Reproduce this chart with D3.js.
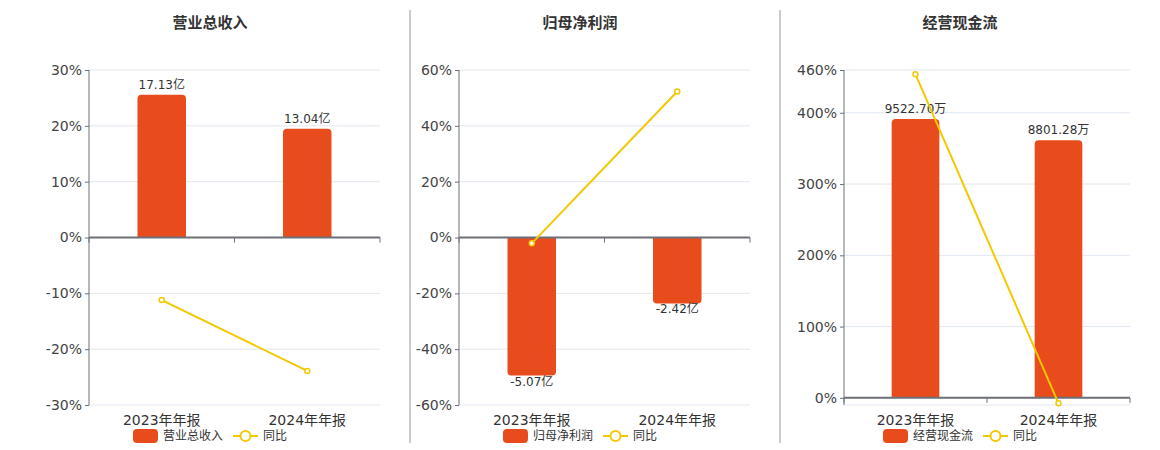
<!DOCTYPE html>
<html>
<head>
<meta charset="utf-8">
<script src="https://cdn.jsdelivr.net/npm/d3@7"></script>
<style>
  body { margin: 0; background: #fff; }
  svg { display: block; font-family: "DejaVu Sans", "Noto Sans CJK SC", sans-serif; }
</style>
</head>
<body>
<div class="main"></div>
<script>

// data
const categories = ["2023年年报", "2024年年报"];
const titles = ["营业总收入", "归母净利润", "经营现金流"];

const revenue = [17.13, 13.04];
const revenueYoY = [-11.2, -23.9];
const profit = [-5.07, -2.42];
const profitYoY = [-2.1, 52.3];
const cashflow = [9522.70, 8801.28];
const cashflowYoY = [454, -7.58];

const revenueTicks = [-30, -20, -10, 0, 10, 20, 30];
const profitTicks = [-60, -40, -20, 0, 20, 40, 60];
const cashflowTicks = [0, 100, 200, 300, 400, 460];

const units = ["亿", "亿", "万"];

////////////
// CANVAS //
////////////

const w = 1160;
const h = 450;
const plotTop = 70, plotBottom = 405;
const barColor = "#e84b1c";
const lineColor = "#f3c800";
const axisColor = "#6e7079";
const gridColor = "#e0e6f1";
const textColor = "#333";

const svg = d3.select(".main")
    .append("svg")
    .attr("width", w)
    .attr("height", h);

// separators
svg.selectAll("line.sep")
    .data([410, 780])
    .enter()
    .append("line")
    .attr("x1", d => d).attr("x2", d => d)
    .attr("y1", 10).attr("y2", 443)
    .attr("stroke", "#aaa")
    .attr("stroke-width", 1.2);

const panels = [
    { title: titles[0], bars: revenue, yoy: revenueYoY, ticks: revenueTicks, yDomain: [-30, 30], barMax: 20.1, left: 89, right: 380, cx: 210, unit: units[0] },
    { title: titles[1], bars: profit, yoy: profitYoY, ticks: profitTicks, yDomain: [-60, 60], barMax: 6.15, left: 459, right: 750, cx: 580, unit: units[1] },
    { title: titles[2], bars: cashflow, yoy: cashflowYoY, ticks: cashflowTicks, yDomain: [-10, 460], barMax: 11200, left: 844, right: 1130, cx: 960, unit: units[2] }
];

// bar path with rounded far end
const barPath = (x, y0, y1, bw, r) => {
    const up = y1 < y0;
    const hgt = Math.abs(y1 - y0);
    r = Math.min(r, hgt / 2, bw / 2);
    const s = up ? 1 : -1;
    return `M${x},${y0} L${x},${y1 + s * r} Q${x},${y1} ${x + r},${y1} L${x + bw - r},${y1} Q${x + bw},${y1} ${x + bw},${y1 + s * r} L${x + bw},${y0} Z`;
};

panels.forEach(p => {
    const g = svg.append("g");

    ////////////
    // SCALES //
    ////////////

    const xScale = d3.scaleBand()
        .domain(categories)
        .range([p.left, p.right]);

    const yScale = d3.scaleLinear()
        .domain(p.yDomain)
        .range([plotBottom, plotTop]);

    const barMin = p.barMax * p.yDomain[0] / p.yDomain[1];
    const yBar = d3.scaleLinear()
        .domain([barMin, p.barMax])
        .range([plotBottom, plotTop]);

    // title
    g.append("text")
        .text(p.title)
        .attr("x", p.cx)
        .attr("y", 28)
        .attr("text-anchor", "middle")
        .style("font-size", "15px")
        .style("font-weight", "bold")
        .style("fill", textColor);

    // grid
    const gridVals = Array.from(new Set([p.yDomain[0], ...p.ticks]));
    g.selectAll("line.grid")
        .data(gridVals)
        .enter()
        .append("line")
        .attr("x1", p.left).attr("x2", p.right)
        .attr("y1", d => yScale(d)).attr("y2", d => yScale(d))
        .attr("stroke", gridColor);

    // y axis
    const yAxis = d3.axisLeft(yScale)
        .tickValues(p.ticks)
        .tickFormat(d => d + "%")
        .tickSize(4)
        .tickPadding(3);

    const yAxisG = g.append("g")
        .attr("transform", `translate(${p.left},0)`)
        .call(yAxis);
    yAxisG.select(".domain").remove();
    yAxisG.selectAll(".tick line").attr("stroke", axisColor);
    yAxisG.selectAll(".tick text")
        .style("font-size", "14px")
        .style("fill", "#444")
        .style("font-family", "DejaVu Sans, sans-serif");
    g.append("line")
        .attr("x1", p.left).attr("x2", p.left)
        .attr("y1", plotTop).attr("y2", plotBottom)
        .attr("stroke", axisColor);

    //////////
    // BARS //
    //////////

    const bw = xScale.bandwidth() / 3;
    g.selectAll("path.bar")
        .data(p.bars)
        .enter()
        .append("path")
        .attr("d", (d, i) => barPath(xScale(categories[i]) + xScale.bandwidth() / 2 - bw / 2, yBar(0), yBar(d), bw, 4))
        .attr("fill", barColor);

    g.selectAll("text.barlabel")
        .data(p.bars)
        .enter()
        .append("text")
        .text(d => d.toFixed(2) + p.unit)
        .attr("x", (d, i) => xScale(categories[i]) + xScale.bandwidth() / 2)
        .attr("y", d => d >= 0 ? yBar(d) - 6 : yBar(d) + 6)
        .attr("text-anchor", "middle")
        .attr("dominant-baseline", d => d >= 0 ? "auto" : "central")
        .style("font-size", "12px")
        .style("fill", textColor);

    // x axis at zero
    const x0 = yScale(0);
    g.append("line")
        .attr("x1", p.left).attr("x2", p.right)
        .attr("y1", x0).attr("y2", x0)
        .attr("stroke", axisColor)
        .attr("stroke-width", 2);
    const bounds = [p.left, p.left + xScale.bandwidth(), p.right];
    g.selectAll("line.xtick")
        .data(bounds)
        .enter()
        .append("line")
        .attr("x1", d => d).attr("x2", d => d)
        .attr("y1", x0).attr("y2", x0 + 5)
        .attr("stroke", axisColor);

    g.selectAll("text.xlabel")
        .data(categories)
        .enter()
        .append("text")
        .text(d => d)
        .attr("x", d => xScale(d) + xScale.bandwidth() / 2)
        .attr("y", 425)
        .attr("text-anchor", "middle")
        .style("font-size", "14px")
        .style("fill", textColor);

    //////////
    // LINE //
    //////////

    const line = d3.line()
        .x((d, i) => xScale(categories[i]) + xScale.bandwidth() / 2)
        .y(d => yScale(d));

    g.append("path")
        .datum(p.yoy)
        .attr("d", line)
        .attr("fill", "none")
        .attr("stroke", lineColor)
        .attr("stroke-width", 2);

    g.selectAll("circle.pt")
        .data(p.yoy)
        .enter()
        .append("circle")
        .attr("cx", (d, i) => xScale(categories[i]) + xScale.bandwidth() / 2)
        .attr("cy", d => yScale(d))
        .attr("r", 2.5)
        .attr("fill", "#fff")
        .attr("stroke", lineColor)
        .attr("stroke-width", 1.5);

    ////////////
    // LEGEND //
    ////////////

    const lg = g.append("g");
    lg.append("rect")
        .attr("x", 0).attr("y", -7)
        .attr("width", 25).attr("height", 14)
        .attr("rx", 4)
        .attr("fill", barColor);
    const t1 = lg.append("text")
        .text(p.title)
        .attr("x", 30).attr("y", 0)
        .attr("dominant-baseline", "central")
        .style("font-size", "12px")
        .style("fill", textColor);
    const l1 = t1.node().getComputedTextLength();
    const sx = 30 + l1 + 10;
    lg.append("line")
        .attr("x1", sx).attr("x2", sx + 25)
        .attr("y1", 0).attr("y2", 0)
        .attr("stroke", lineColor)
        .attr("stroke-width", 2);
    lg.append("circle")
        .attr("cx", sx + 12.5).attr("cy", 0)
        .attr("r", 5)
        .attr("fill", "#fff")
        .attr("stroke", lineColor)
        .attr("stroke-width", 2);
    const t2 = lg.append("text")
        .text("同比")
        .attr("x", sx + 30).attr("y", 0)
        .attr("dominant-baseline", "central")
        .style("font-size", "12px")
        .style("fill", textColor);
    const total = sx + 30 + t2.node().getComputedTextLength();
    lg.attr("transform", `translate(${p.cx - total / 2},436)`);
});

</script>
</body>
</html>
